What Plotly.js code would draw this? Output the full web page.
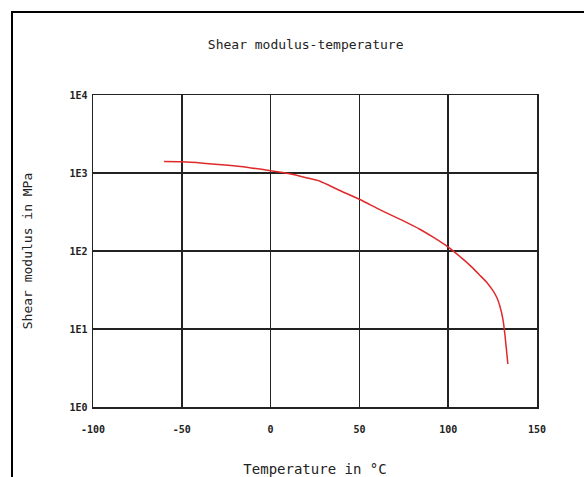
<!DOCTYPE html>
<html>
<head>
<meta charset="utf-8">
<script src="https://cdn.plot.ly/plotly-3.0.1.min.js"></script>
<style>
html,body{margin:0;padding:0;background:#fff;width:584px;height:477px;overflow:hidden;}
#frame{position:absolute;left:11px;top:11px;width:600px;height:500px;border-left:2px solid #000;border-top:2px solid #000;}
#plot{position:absolute;left:0;top:0;width:584px;height:477px;}
</style>
</head>
<body>
<div id="frame"></div>
<div id="plot"></div>
<script>
// Data
var temperature = [-60, -50, -38, -17, 0, 10.6, 20, 27.8, 38, 50, 62, 74.5, 84, 92, 100, 108.5, 113, 117.8, 122, 125.2, 127.5, 129, 130.8, 131.8, 133.6];
var shearModulus = [1400, 1390, 1335, 1211, 1067, 975, 870, 785, 610, 460, 335, 245, 190, 148, 112, 78, 63, 49, 39, 31, 25, 20, 13.4, 9.0, 3.56];
var yTickVals = [1, 10, 100, 1000, 10000];
var yTickText = ['1E0', '1E1', '1E2', '1E3', '1E4'];
var xTickVals = [-100, -50, 0, 50, 100, 150];
var xTickText = ['-100', '-50', '0', '50', '100', '150'];

var mono = 'DejaVu Sans Mono, Liberation Mono, monospace';

var trace = {
  x: temperature,
  y: shearModulus,
  type: 'scatter',
  mode: 'lines',
  line: {color: '#e02a2a', width: 1.5, shape: 'spline', smoothing: 0.6},
  hoverinfo: 'skip'
};

var layout = {
  width: 584,
  height: 477,
  paper_bgcolor: 'rgba(0,0,0,0)',
  plot_bgcolor: '#fff',
  margin: {l: 93, r: 47, t: 95, b: 70, pad: 0},
  showlegend: false,
  title: {
    text: 'Shear modulus-temperature',
    font: {family: mono, size: 13, color: '#222'},
    x: 0.479, xref: 'paper', xanchor: 'center',
    y: 0.907, yref: 'container', yanchor: 'middle'
  },
  xaxis: {
    range: [-100, 150],
    tickvals: xTickVals,
    ticktext: xTickText,
    showgrid: true,
    gridcolor: '#222',
    gridwidth: 1.5,
    zeroline: false,
    showline: true,
    linecolor: '#222',
    linewidth: 1.5,
    mirror: true,
    ticks: '',
    ticklabelstandoff: 12,
    tickfont: {family: mono, size: 10, color: '#222', weight: 'bold'},
    title: {text: 'Temperature in °C', font: {family: mono, size: 14, color: '#222'}, standoff: 30}
  },
  yaxis: {
    type: 'log',
    range: [0, 4],
    tickvals: yTickVals,
    ticktext: yTickText,
    showgrid: true,
    gridcolor: '#222',
    gridwidth: 1.5,
    zeroline: false,
    showline: true,
    linecolor: '#222',
    linewidth: 1.5,
    mirror: true,
    ticks: '',
    ticklabelstandoff: 2,
    tickfont: {family: mono, size: 10, color: '#222', weight: 'bold'},
    title: {text: 'Shear modulus in MPa', font: {family: mono, size: 13, color: '#222'}, standoff: 34}
  }
};

Plotly.newPlot('plot', [trace], layout, {displayModeBar: false, staticPlot: true});
</script>
</body>
</html>
